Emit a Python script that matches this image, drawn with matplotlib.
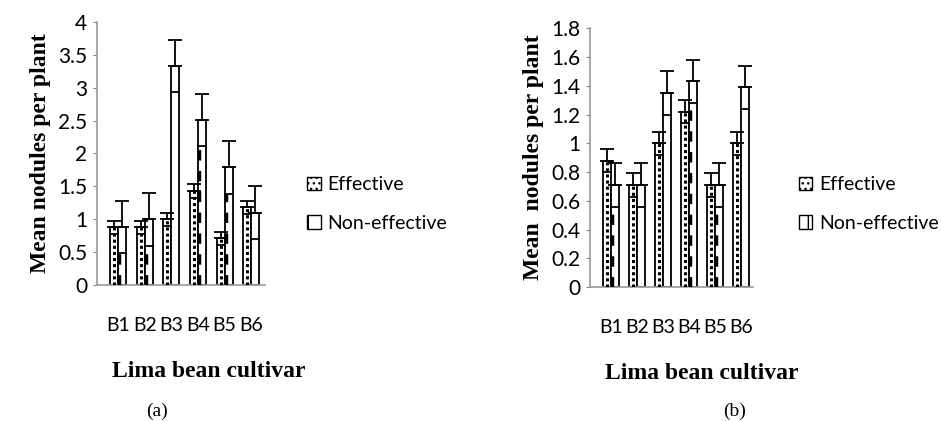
import matplotlib.pyplot as plt
from matplotlib.patches import Patch

cultivars = ['B1', 'B2', 'B3', 'B4', 'B5', 'B6']

# panel (a)
eff_a = [0.88, 0.88, 1.0, 1.43, 0.71, 1.18]
eff_err_a = [0.1, 0.1, 0.1, 0.1, 0.1, 0.1]
non_a = [0.88, 1.0, 3.33, 2.51, 1.79, 1.1]
non_err_a = [0.4, 0.4, 0.4, 0.4, 0.4, 0.4]
dash_a = [1, 1, 0, 1, 1, 0]

# panel (b)
eff_b = [0.88, 0.71, 1.0, 1.22, 0.71, 1.0]
eff_err_b = [0.08, 0.08, 0.08, 0.08, 0.08, 0.08]
non_b = [0.71, 0.71, 1.35, 1.43, 0.71, 1.39]
non_err_b = [0.15, 0.15, 0.15, 0.15, 0.15, 0.15]
dash_b = [1, 0, 0, 1, 1, 0]

W = 0.3
SERIF = 'Liberation Serif'
SANS = 'Lato'


def draw(ax, eff, eff_err, non, non_err, dash, ymax, ystep, xlim):
    x = list(range(len(cultivars)))
    xe = [i - W / 2 for i in x]
    xn = [i + W / 2 for i in x]
    ax.bar(xe, eff, W, color='white', edgecolor='black', lw=1.3, zorder=2)
    ax.bar(xn, non, W, color='white', edgecolor='black', lw=1.3, zorder=2)
    # dotted inner column of the effective bars
    for xi, v in zip(xe, eff):
        ax.plot([xi, xi], [0, v], color='black', ls=(0, (1, 1)), lw=2.2, zorder=3)
    # dashed strokes showing through some non-effective bars
    for xi, v, e, d in zip(xn, non, non_err, dash):
        if d:
            ax.plot([xi - W * 0.35] * 2, [0, v - e], color='black',
                    ls=(0, (3, 3)), lw=2.5, zorder=3)
    for xs, v, e in ((xe, eff, eff_err), (xn, non, non_err)):
        ax.errorbar(xs, v, yerr=[[0] * len(v), e], fmt='none', ecolor='black',
                    elinewidth=1.3, capsize=5, capthick=1.3, zorder=4)
        lo = [a - b for a, b in zip(v, e)]
        ax.hlines(lo, [a - W * 0.6 for a in xs], [a + W * 0.6 for a in xs],
                  color='black', lw=1.3, zorder=4)
    n = int(round(ymax / ystep))
    ax.set_xlim(*xlim)
    ax.set_ylim(0, ymax)
    ax.set_yticks([i * ystep for i in range(n + 1)])
    ax.set_yticklabels(['%g' % round(i * ystep, 1) for i in range(n + 1)],
                       fontfamily=SANS, fontsize=15)
    ax.set_xticks(x)
    ax.set_xticklabels(cultivars, fontfamily=SANS, fontsize=14)
    ax.tick_params(axis='x', length=0, pad=23)
    ax.tick_params(axis='y', length=3, color='#888888', pad=4)
    for s in ('top', 'right'):
        ax.spines[s].set_visible(False)
    for s in ('left', 'bottom'):
        ax.spines[s].set_color('#999999')
        ax.spines[s].set_linewidth(1.2)


fig = plt.figure(figsize=(9.41, 4.21), dpi=100)
ax1 = fig.add_axes([0.103, 0.323, 0.179, 0.625])
ax2 = fig.add_axes([0.627, 0.318, 0.173, 0.615])

draw(ax1, eff_a, eff_err_a, non_a, non_err_a, dash_a, 4, 0.5, (-0.8, 5.53))
draw(ax2, eff_b, eff_err_b, non_b, non_err_b, dash_b, 1.8, 0.2, (-0.81, 5.46))
ax1.set_ylabel('Mean nodules per plant', fontfamily=SERIF, fontweight='bold',
               fontsize=17, labelpad=5)
ax2.set_ylabel('Mean  nodules per plant', fontfamily=SERIF, fontweight='bold',
               fontsize=17, labelpad=5)

handles = [Patch(facecolor='white', edgecolor='black', hatch='...', label='Effective'),
           Patch(facecolor='white', edgecolor='black', hatch='|', label='Non-effective')]
for xa in (0.308, 0.830):
    fig.legend(handles=handles, loc='center left', bbox_to_anchor=(xa, 0.515),
               frameon=False, prop={'family': SANS, 'size': 14},
               handlelength=0.7, handleheight=0.7, handletextpad=0.35,
               labelspacing=1.1)

fig.text(0.222, 0.117, 'Lima bean cultivar', ha='center', va='center',
         fontfamily=SERIF, fontweight='bold', fontsize=17)
fig.text(0.746, 0.112, 'Lima bean cultivar', ha='center', va='center',
         fontfamily=SERIF, fontweight='bold', fontsize=17)
fig.text(0.167, 0.024, '(a)', ha='center', va='center', fontfamily=SERIF, fontsize=14)
fig.text(0.781, 0.024, '(b)', ha='center', va='center', fontfamily=SERIF, fontsize=14)

fig.savefig('out.png', dpi=100)
